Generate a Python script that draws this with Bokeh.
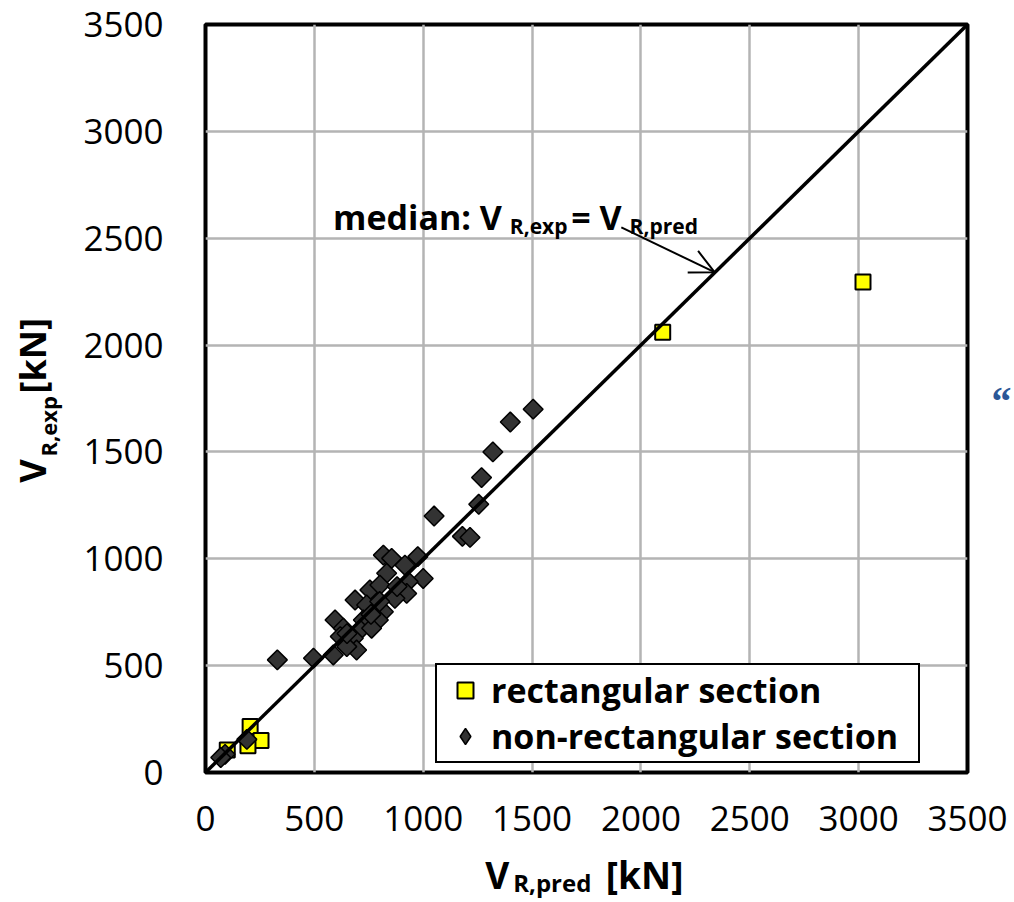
import math
from bokeh.plotting import figure
from bokeh.models import (Range1d, FixedTicker, Label, Arrow, OpenHead, Legend,
                          LegendItem, ColumnDataSource, LinearAxis)
from bokeh.embed import file_html
from bokeh.resources import INLINE

# ---------------- data ----------------
tick_values = [0, 500, 1000, 1500, 2000, 2500, 3000, 3500]
median_x = [0, 3500]
median_y = [0, 3500]

rect_pred = [3020, 2100, 205, 255, 195, 100]
rect_exp = [2295, 2060, 215, 150, 125, 105]

nonrect_pred = [1505, 1400, 1320, 1268, 1255, 1050, 1180, 1215, 975, 1000,
                817, 855, 916, 832, 931, 755, 801, 924, 687, 870,
                817, 740, 794, 595, 633, 725, 710, 619, 679, 694,
                587, 649, 763, 330, 496, 190, 90, 70, 760, 800, 880, 650]
nonrect_exp = [1700, 1640, 1500, 1380, 1255, 1200, 1105, 1100, 1010, 908,
               1017, 1002, 970, 932, 893, 854, 877, 838, 807, 815,
               752, 784, 714, 714, 675, 714, 667, 636, 628, 573,
               550, 589, 675, 527, 535, 155, 85, 70, 740, 800, 870, 650]

FONT = "Open Sans"

p = figure(width=1014, height=902, x_range=Range1d(0, 3500), y_range=Range1d(0, 3500),
           output_backend="svg", toolbar_location=None,
           min_border_left=205, min_border_right=46, min_border_top=24, min_border_bottom=129)
p.background_fill_color = "white"
p.border_fill_color = "white"
p.outline_line_color = "black"
p.outline_line_width = 4


def plain_axis(ax, size, standoff, bold=False, color="black", font=FONT):
    ax.axis_line_color = None
    ax.major_tick_line_color = None
    ax.minor_tick_line_color = None
    ax.major_tick_out = 0
    ax.major_tick_in = 0
    ax.minor_tick_out = 0
    ax.minor_tick_in = 0
    ax.major_label_text_font = font
    ax.major_label_text_font_size = size
    ax.major_label_text_font_style = "bold" if bold else "normal"
    ax.major_label_text_color = color
    ax.major_label_standoff = standoff


xax = p.xaxis[0]
yax = p.yaxis[0]
xax.ticker = FixedTicker(ticks=tick_values)
yax.ticker = FixedTicker(ticks=tick_values)
plain_axis(xax, "35px", 33)
plain_axis(yax, "35px", 42)

p.xgrid.ticker = FixedTicker(ticks=tick_values)
p.ygrid.ticker = FixedTicker(ticks=tick_values)
p.grid.grid_line_color = "#b4b4b4"
p.grid.grid_line_width = 2.5

rect_src = ColumnDataSource(dict(x=rect_pred, y=rect_exp))
non_src = ColumnDataSource(dict(x=nonrect_pred, y=nonrect_exp))

r_rect = p.scatter("x", "y", source=rect_src, marker="square", size=15,
                   fill_color="#ffff00", line_color="black", line_width=2)
# small diamonds (fully covered by the tilted squares) give the legend its swatch
r_non_key = p.scatter("x", "y", source=non_src, marker="diamond", size=10,
                      fill_color="#333333", line_color="black", line_width=1.5)
r_non = p.scatter("x", "y", source=non_src, marker="square", size=14, angle=math.pi / 4,
                  fill_color="#333333", line_color="black", line_width=1.5)
p.line(median_x, median_y, line_color="black", line_width=3.5)

# annotation: median line
ann_font = "34px"
sub_font = "21px"
for x, y, t, fs in [(586, 2601, "median: V", ann_font), (1398, 2559, "R,exp", sub_font),
                    (1680, 2601, "= V", ann_font), (1948, 2559, "R,pred", sub_font)]:
    p.add_layout(Label(x=x, y=y, text=t, text_font=FONT, text_font_style="bold",
                       text_font_size=fs, text_color="black",
                       text_baseline="alphabetic", text_align="left"))
p.add_layout(Arrow(x_start=1910, y_start=2551, x_end=2338, y_end=2341,
                   line_color="black", line_width=2,
                   end=OpenHead(size=24, line_color="black", line_width=2)))

# ---- axis titles, built from label-only axes (subscripts need separate pieces) ----
x_sub = LinearAxis(ticker=FixedTicker(ticks=[1593], minor_ticks=[]),
                   major_label_overrides={1593: "R,pred"})
plain_axis(x_sub, "24px", 32, bold=True)
p.add_layout(x_sub, "below")
x_main = LinearAxis(ticker=FixedTicker(ticks=[1340, 2017], minor_ticks=[]),
                    major_label_overrides={1340: "V", 2017: "[kN]"})
plain_axis(x_main, "37px", -53, bold=True)
p.add_layout(x_main, "below")

y_sub = LinearAxis(ticker=FixedTicker(ticks=[1620], minor_ticks=[]),
                   major_label_overrides={1620: "R,exp"})
plain_axis(y_sub, "22px", 17, bold=True)
y_sub.major_label_orientation = "parallel"
p.add_layout(y_sub, "left")
y_main = LinearAxis(ticker=FixedTicker(ticks=[1410, 1950], minor_ticks=[]),
                    major_label_overrides={1410: "V", 1950: "[kN]"})
plain_axis(y_main, "36px", -27, bold=True)
y_main.major_label_orientation = "parallel"
p.add_layout(y_main, "left")

# stray glyph at the right edge of the source page
r_mark = LinearAxis(ticker=FixedTicker(ticks=[1738], minor_ticks=[]),
                    major_label_overrides={1738: "\u201c"})
plain_axis(r_mark, "40px", 24, bold=True, color="#2b5797", font="Liberation Serif")
p.add_layout(r_mark, "right")

legend = Legend(items=[LegendItem(label="rectangular section", renderers=[r_rect]),
                       LegendItem(label="non-rectangular section", renderers=[r_non_key])],
                location=(230, 9))
legend.label_text_font = FONT
legend.label_text_font_style = "bold"
legend.label_text_font_size = "34px"
legend.label_text_color = "black"
legend.glyph_width = 52
legend.glyph_height = 40
legend.label_standoff = 0
legend.label_width = 425
legend.padding = 2
legend.spacing = 0
legend.margin = 0
legend.border_line_color = "black"
legend.border_line_alpha = 1
legend.border_line_width = 2
legend.background_fill_color = "white"
legend.background_fill_alpha = 1
p.add_layout(legend, "center")

open("out.html", "w").write(file_html(p, INLINE))
